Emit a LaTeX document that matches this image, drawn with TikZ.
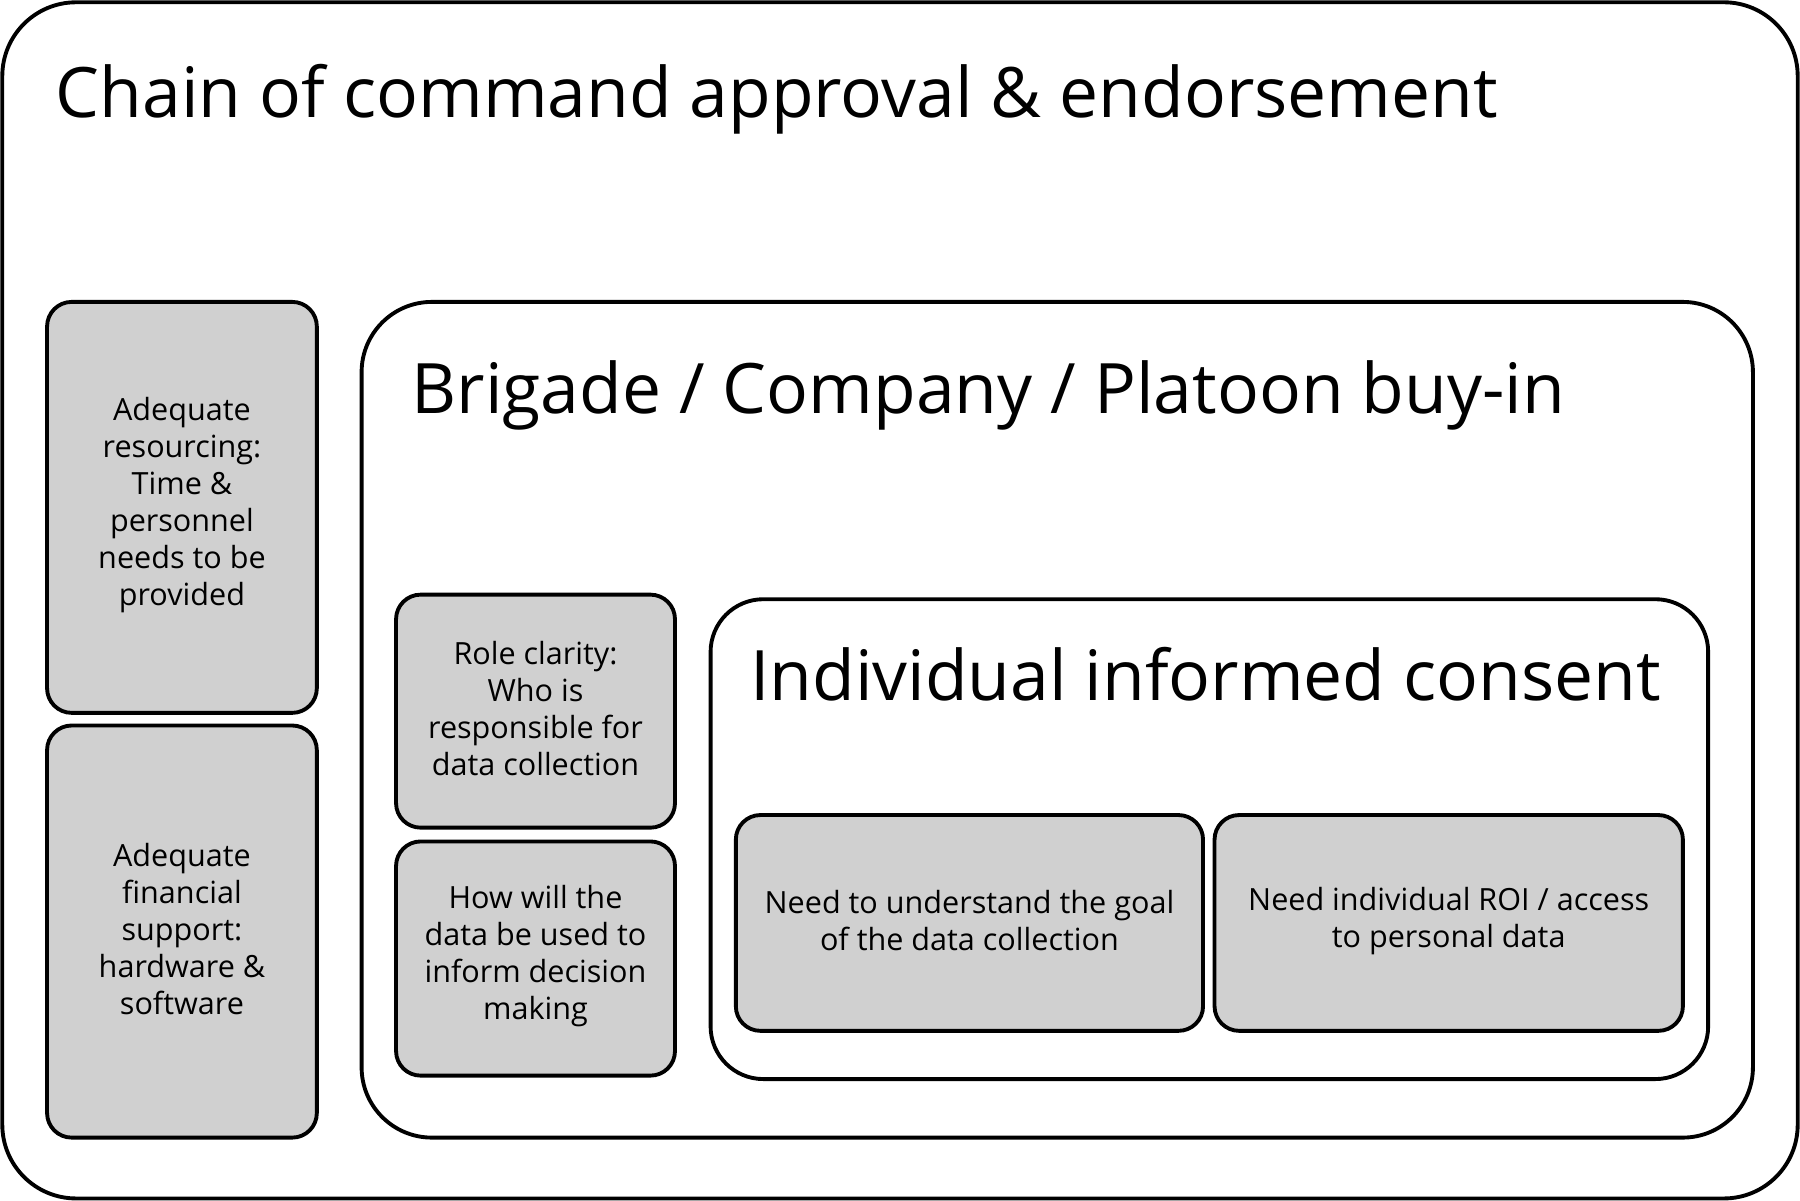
\documentclass[tikz,border=0pt]{standalone}
\usepackage{fontspec}
\setmainfont{Open Sans}
\definecolor{boxgray}{RGB}{208,208,208}

\begin{document}
\begin{tikzpicture}[x=0.1148mm, y=-0.1148mm,
		frame/.style={line width=1.1pt, rounded corners=#1},
		box/.style={line width=1.1pt, fill=boxgray, rounded corners=7pt},
		boxtext/.style={align=center, inner sep=0pt, font=\fontsize{8.7}{10.5}\selectfont},
		heading/.style={anchor=base west, inner sep=0pt, font=\fontsize{19.8}{24}\selectfont}]
			%%%%% START %%%%%
			
			\useasboundingbox (0,0) rectangle (1568,1046);
			
			\draw[frame=21pt] (2, 2) rectangle (1566, 1044);
			\node[heading] (chain) at (48, 102) {Chain of command approval \& endorsement};
			
			\draw[box] (41, 263) rectangle (276, 621);
			\node[boxtext] (resourcing) at (158.5, 440) {Adequate\\resourcing:\\Time \&\\personnel\\needs to be\\provided};
			\draw[box] (41, 632) rectangle (276, 991);
			\node[boxtext] (financial) at (158.5, 809.5) {Adequate\\financial\\support:\\hardware \&\\software};
			
			\draw[frame=20pt] (315, 263) rectangle (1527, 991);
			\node[heading] (buyin) at (358, 360) {Brigade / Company / Platoon buy-in};
			
			\draw[box] (345, 518) rectangle (588, 721);
			\node[boxtext] (role) at (466.5, 617.5) {Role clarity:\\Who is\\responsible for\\data collection};
			\draw[box] (345, 733) rectangle (588, 937);
			\node[boxtext] (usage) at (466.5, 833) {How will the\\data be used to\\inform decision\\making};
			
			\draw[frame=15pt] (619, 522) rectangle (1488, 940);
			\node[heading] (consent) at (653, 610) {Individual informed consent};
			
			\draw[box] (641, 710) rectangle (1048, 898);
			\node[boxtext] (goal) at (844.5, 802) {Need to understand the goal\\of the data collection};
			\draw[box] (1058, 710) rectangle (1466, 898);
			\node[boxtext] (roi) at (1262, 802) {Need individual ROI / access\\to personal data};
			
			%%%%% END %%%%%
\end{tikzpicture}
\end{document}
